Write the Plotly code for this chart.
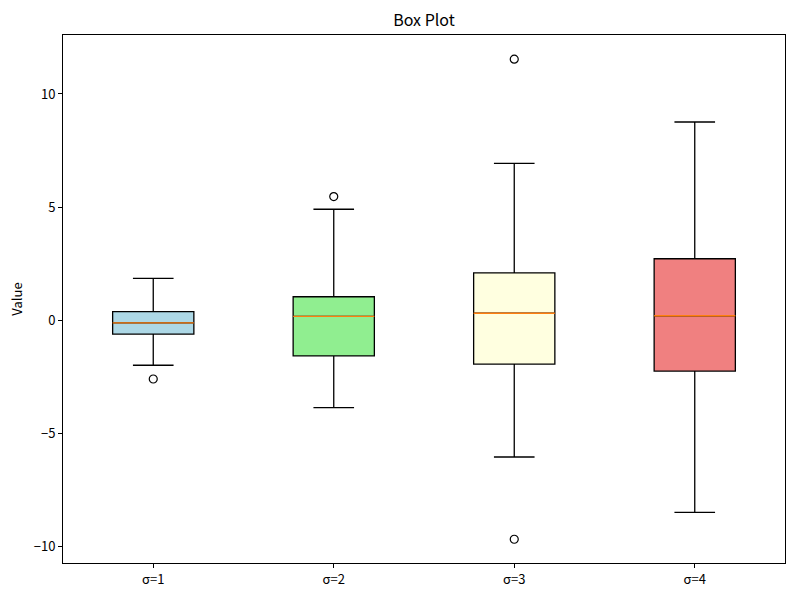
import plotly.graph_objects as go

labels = ["σ=1", "σ=2", "σ=3", "σ=4"]
q1 = [-0.62, -1.59, -1.95, -2.26]
median = [-0.13, 0.16, 0.30, 0.19]
q3 = [0.37, 1.03, 2.09, 2.71]
lower_whisker = [-2.00, -3.88, -6.06, -8.51]
upper_whisker = [1.84, 4.90, 6.93, 8.76]
outlier_group = [1, 2, 3, 3]
outlier_values = [-2.61, 5.46, 11.54, -9.70]
fill_colors = ["#ADD8E6", "#90EE90", "#FFFFE0", "#F08080"]

positions = list(range(1, len(labels) + 1))
box_width = 0.45
font_family = "Noto Sans CJK SC, DejaVu Sans, sans-serif"

fig = go.Figure()
for i, p in enumerate(positions):
    fig.add_trace(go.Box(
        x=[p], q1=[q1[i]], median=[median[i]], q3=[q3[i]],
        lowerfence=[lower_whisker[i]], upperfence=[upper_whisker[i]],
        width=box_width, whiskerwidth=0.5,
        fillcolor=fill_colors[i],
        line=dict(color="black", width=1.3),
        boxpoints=False, showlegend=False, hoverinfo="skip",
    ))

# median lines (orange)
mx, my = [], []
for i, p in enumerate(positions):
    mx += [p - box_width / 2, p + box_width / 2, None]
    my += [median[i], median[i], None]
fig.add_trace(go.Scatter(x=mx, y=my, mode="lines",
                         line=dict(color="#ff7f0e", width=1.3),
                         showlegend=False, hoverinfo="skip"))

# outliers
fig.add_trace(go.Scatter(
    x=[positions[g - 1] for g in outlier_group], y=outlier_values,
    mode="markers",
    marker=dict(symbol="circle-open", size=8, color="black", line=dict(width=1.2)),
    showlegend=False, hoverinfo="skip"))

axis_common = dict(showline=True, mirror=True, linecolor="black", linewidth=1,
                   ticks="outside", ticklen=4, tickcolor="black", showgrid=False,
                   zeroline=False, tickfont=dict(size=13, color="black", family=font_family))

fig.update_layout(
    width=800, height=600,
    margin=dict(l=63, r=15, t=35, b=37),
    plot_bgcolor="white", paper_bgcolor="white",
    font=dict(family=font_family, color="black"),
    title=dict(text="Box Plot", x=(63 + 785) / 2 / 800, xanchor="center",
               y=1 - 20 / 600, yanchor="middle", yref="container",
               font=dict(size=16, color="black", family=font_family)),
    xaxis=dict(range=[0.5, 4.5], tickvals=positions, ticktext=labels, **axis_common),
    yaxis=dict(range=[-10.75, 12.61], tickvals=[-10, -5, 0, 5, 10],
               title=dict(text="Value", font=dict(size=13, family=font_family), standoff=8),
               **axis_common),
)

fig.write_html("out.html")
